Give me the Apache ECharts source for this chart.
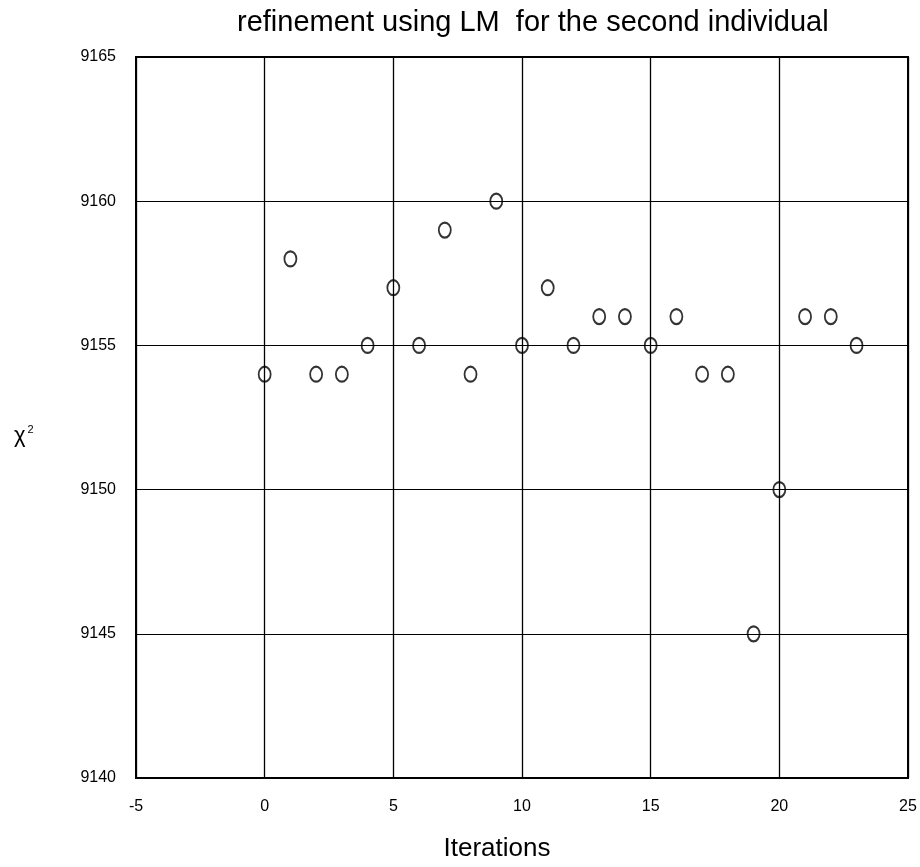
<!DOCTYPE html>
<html>
<head>
<meta charset="utf-8">
<script src="https://cdn.jsdelivr.net/npm/echarts@6/dist/echarts.min.js"></script>
<style>
  html, body { margin: 0; padding: 0; background: #fff; }
  #chart { width: 920px; height: 867px; }
</style>
</head>
<body>
<div id="chart"></div>
<script>
// iteration index (x) and chi-square value (y)
const iterations = [0, 1, 2, 3, 4, 5, 6, 7, 8, 9, 10, 11, 12, 13, 14, 15, 16, 17, 18, 19, 20, 21, 22, 23];
const chi2 = [9154, 9158, 9154, 9154, 9155, 9157, 9155, 9159, 9154, 9160, 9155, 9157,
              9155, 9156, 9156, 9155, 9156, 9154, 9154, 9145, 9150, 9156, 9156, 9155];

const points = iterations.map((it, i) => [it, chi2[i]]);

const chart = echarts.init(document.getElementById('chart'));

const axisFont = { color: '#000', fontSize: 16, fontFamily: 'Liberation Sans, Arial, sans-serif' };

const option = {
    backgroundColor: '#fff',
    animation: false,
    title: {
        text: 'refinement using LM  for the second individual',
        left: 232,
        top: 3,
        textStyle: {
            color: '#000',
            fontSize: 29,
            fontWeight: 'normal',
            fontFamily: 'Liberation Sans, Arial, sans-serif'
        }
    },
    grid: {
        left: 136,
        right: 12,
        top: 57,
        bottom: 88,
        show: true,
        borderColor: '#000',
        borderWidth: 2
    },
    xAxis: {
        type: 'value',
        min: -5,
        max: 25,
        interval: 5,
        name: 'Iterations',
        nameLocation: 'middle',
        nameGap: 58,
        nameTextStyle: {
            color: '#000',
            fontSize: 26,
            fontFamily: 'Liberation Sans, Arial, sans-serif',
            padding: [0, 50, 0, 0]
        },
        axisLine: { show: true, onZero: false, lineStyle: { color: '#000', width: 2 } },
        axisTick: { show: false },
        axisLabel: Object.assign({ margin: 21 }, axisFont),
        splitLine: { show: true, lineStyle: { color: '#000', width: 1.3 } }
    },
    yAxis: {
        type: 'value',
        min: 9140,
        max: 9165,
        interval: 5,
        axisLine: { show: true, onZero: false, lineStyle: { color: '#000', width: 2 } },
        axisTick: { show: false },
        axisLabel: Object.assign({ margin: 20, formatter: v => String(v) }, axisFont),
        splitLine: { show: true, lineStyle: { color: '#000', width: 1 } }
    },
    // chi-square label on the left
    graphic: [
        {
            type: 'text',
            left: 14,
            top: 424,
            style: {
                text: '{a|χ}{b|2}',
                rich: {
                    a: { fontSize: 22, fill: '#000', fontFamily: 'Liberation Sans, Arial, sans-serif' },
                    b: { fontSize: 11, fill: '#000', verticalAlign: 'top', padding: [0, 0, 12, 2], fontFamily: 'Liberation Sans, Arial, sans-serif' }
                }
            }
        }
    ],
    series: [
        {
            type: 'scatter',
            data: points,
            symbol: 'circle',
            symbolSize: [12, 15],
            itemStyle: {
                color: 'rgba(255,255,255,0)',
                borderColor: '#000',
                borderWidth: 2
            }
        }
    ]
};

chart.setOption(option);
</script>
</body>
</html>
